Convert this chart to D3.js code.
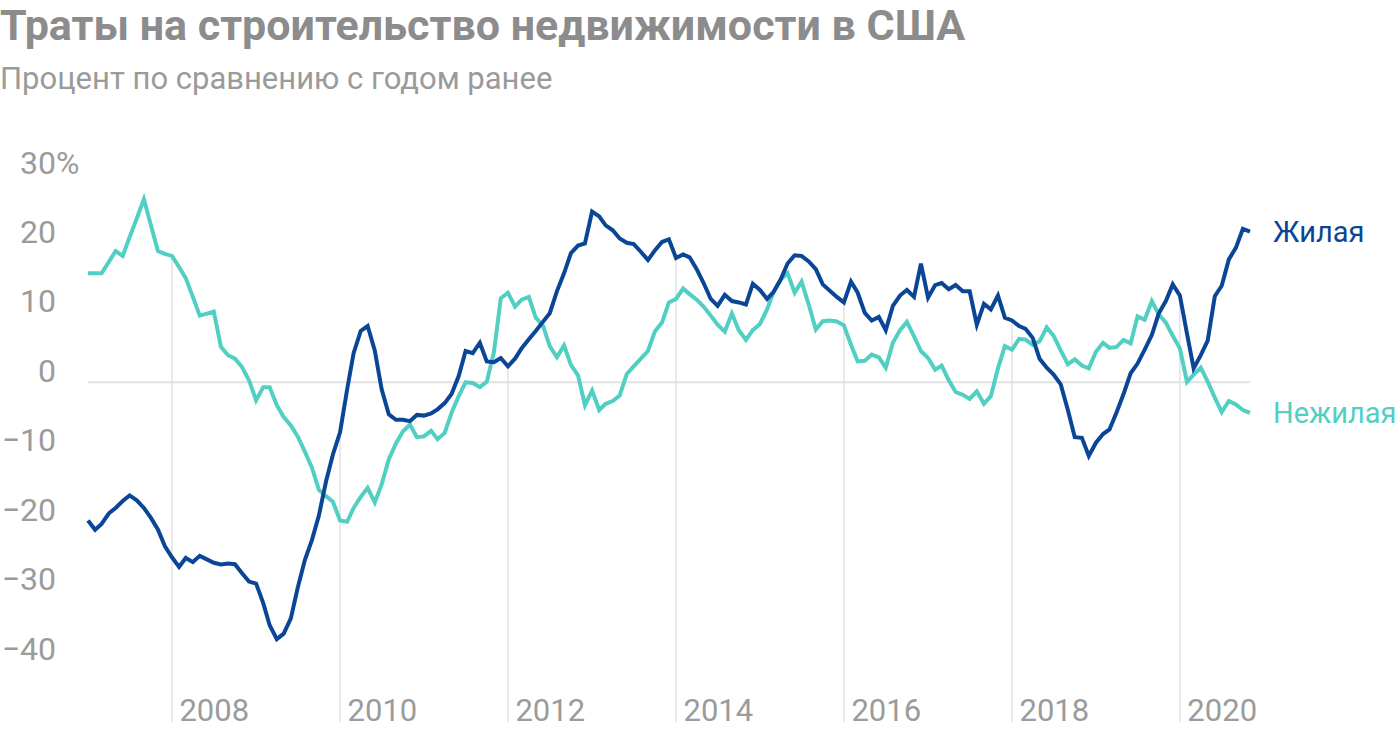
<!DOCTYPE html>
<html>
<head>
<meta charset="utf-8">
<script src="https://cdn.jsdelivr.net/npm/d3@7"></script>
<style>
  html, body { margin: 0; padding: 0; background: #fff; }
  svg { display: block; font-family: Roboto, "Noto Sans", sans-serif; }
</style>
</head>
<body>
<svg id="chart" width="1400" height="732"></svg>
<script>
// ---- Data (year-over-year % change, monthly, Jan 2007 – Nov 2020) ----
const titleText = "Траты на строительство недвижимости в США";
const subtitleText = "Процент по сравнению с годом ранее";
const seriesNames = ["Жилая", "Нежилая"];
const startMonth = "2007-01";

const residential = [
  -19.9, -21.25, -20.4, -18.9, -18.1, -17.1, -16.3, -17.0, -18.1, -19.5, -21.2, -23.6,
  -25.2, -26.6, -25.3, -25.9, -25.0, -25.5, -26.0, -26.25, -26.1, -26.2, -27.5, -28.7,
  -29.0, -31.8, -35.0, -37.0, -36.2, -34.0, -29.6, -25.6, -22.7, -19.2, -14.3, -10.4,
  -7.2, -1.0, 4.2, 7.4, 8.1, 4.6, -1.0, -4.6, -5.4, -5.4, -5.6, -4.7,
  -4.8, -4.5, -3.9, -3.0, -1.7, 0.9, 4.5, 4.2, 5.7, 3.0, 2.9, 3.5,
  2.3, 3.4, 4.9, 6.2, 7.4, 8.7, 9.95, 13.1, 15.7, 18.6, 19.7, 20.0,
  24.6, 23.9, 22.6, 21.9, 20.7, 20.1, 19.9, 18.8, 17.6, 19.0, 20.2, 20.6,
  17.9, 18.4, 18.0, 16.3, 14.3, 12.0, 11.0, 12.6, 11.7, 11.5, 11.2, 14.2,
  13.3, 12.0, 13.0, 14.8, 17.1, 18.3, 18.2, 17.4, 16.3, 14.1, 13.2, 12.3,
  11.5, 14.5, 12.9, 10.0, 8.9, 9.4, 7.5, 11.0, 12.5, 13.3, 12.3, 17.1,
  12.2, 14.0, 14.3, 13.4, 14.0, 13.1, 13.1, 8.3, 11.3, 10.5, 12.5, 9.3,
  8.9, 8.1, 7.7, 6.4, 3.4, 2.1, 1.1, -0.3, -4.0, -7.9, -8.0, -10.6,
  -8.7, -7.45, -6.8, -4.3, -1.7, 1.3, 2.7, 4.7, 6.8, 9.9, 11.7, 14.1,
  12.5, 7.0, 2.0, 3.9, 6.0, 12.4, 13.9, 17.7, 19.4, 22.1, 21.7
];

const nonResidential = [
  15.7, 15.7, 15.7, 17.3, 18.9, 18.2, 20.9, 23.6, 26.4, 22.7, 18.9, 18.5,
  18.2, 16.6, 15.0, 12.3, 9.6, 9.9, 10.2, 5.1, 3.9, 3.4, 2.2, 0.3,
  -2.6, -0.7, -0.7, -3.3, -5.0, -6.2, -7.8, -10.0, -12.3, -15.5, -16.4, -17.2,
  -19.9, -20.1, -18.1, -16.5, -15.2, -17.3, -14.7, -11.1, -8.8, -7.1, -6.1, -7.9,
  -7.8, -7.0, -8.2, -7.3, -4.4, -2.0, 0.0, -0.1, -0.7, 0.05, 4.3, 12.1,
  12.9, 10.9, 11.9, 12.3, 9.3, 8.2, 5.2, 3.6, 5.3, 2.5, 1.0, -3.3,
  -1.2, -4.0, -3.1, -2.7, -1.9, 1.2, 2.3, 3.4, 4.5, 7.3, 8.6, 11.5,
  12.0, 13.5, 12.7, 11.9, 10.9, 9.6, 8.3, 7.3, 9.9, 7.5, 6.1, 7.5,
  8.4, 10.5, 13.0, 14.8, 15.7, 12.9, 14.5, 11.2, 7.6, 8.8, 8.9, 8.75,
  8.2, 5.4, 3.0, 3.1, 4.0, 3.6, 2.1, 5.7, 7.5, 8.7, 6.6, 4.5,
  3.5, 1.8, 2.4, 0.3, -1.4, -1.8, -2.4, -1.3, -3.1, -2.0, 2.0, 5.2,
  4.7, 6.25, 6.15, 5.4, 5.9, 7.9, 6.7, 4.6, 2.6, 3.3, 2.4, 2.0,
  4.4, 5.7, 4.95, 5.1, 6.1, 5.6, 9.5, 9.0, 11.7, 9.8, 8.6, 6.7,
  4.9, 0.05, 1.1, 2.1, 0.1, -2.2, -4.3, -2.7, -3.2, -4.0, -4.4
];

const yTicks = [30, 20, 10, 0, -10, -20, -30, -40];
const xTickYears = [2008, 2010, 2012, 2014, 2016, 2018, 2020];
// which series each year gridline rises up to
const gridTopSeries = ["non", "res", "res", "res", "res", "res", "res"];

// ---- Build dated rows ----
const parseMonth = d3.timeParse("%Y-%m");
const t0 = parseMonth(startMonth);
const dates = residential.map((_, i) => d3.timeMonth.offset(t0, i));
const resRows = dates.map((d, i) => ({ date: d, value: residential[i] }));
const nonRows = dates.map((d, i) => ({ date: d, value: nonResidential[i] }));

// ---- Layout ----
const COLORS = { res: "#0b4596", non: "#52cfc3", grid: "#e2e2e2", axis: "#9b9b9b", title: "#8c8c8c", sub: "#9a9a9a" };
const svg = d3.select("#chart");

const x = d3.scaleTime().domain([dates[0], dates[dates.length - 1]]).range([88, 1250]);
const y = d3.scaleLinear().domain([-40, 30]).range([660, 174]);
const gridBottom = 722;

// Title / subtitle
svg.append("text").attr("x", 0).attr("y", 40)
  .attr("font-size", 43).attr("font-weight", 700).attr("fill", COLORS.title)
  .text(titleText);
svg.append("text").attr("x", 0).attr("y", 89)
  .attr("font-size", 31).attr("fill", COLORS.sub)
  .text(subtitleText);

// Vertical year gridlines: drawn from bottom up to a data line at that date
const byDate = new Map(dates.map((d, i) => [+d, i]));
const gridG = svg.append("g");
xTickYears.forEach((yr, k) => {
  const d = new Date(yr, 0, 1);
  const i = byDate.get(+d);
  const topVal = gridTopSeries[k] === "res" ? residential[i] : nonResidential[i];
  gridG.append("line")
    .attr("x1", x(d)).attr("x2", x(d))
    .attr("y1", gridBottom).attr("y2", y(topVal))
    .attr("stroke", COLORS.grid).attr("stroke-width", 1.5);
});

// Zero line
svg.append("line")
  .attr("x1", x(dates[0])).attr("x2", x(dates[dates.length - 1]))
  .attr("y1", y(0)).attr("y2", y(0))
  .attr("stroke", COLORS.grid).attr("stroke-width", 2);

// Y axis labels (no line), numbers right aligned, "%" hanging after the top one
const yAxis = d3.axisLeft(y).tickValues(yTicks).tickSize(0)
  .tickFormat(v => (v < 0 ? "\u2212" + Math.abs(v) : String(v)));
const yG = svg.append("g").attr("transform", "translate(56,0)").call(yAxis);
yG.select(".domain").remove();
yG.selectAll("text").attr("x", 0).attr("dy", "-0.03em").attr("dominant-baseline", "alphabetic")
  .attr("font-size", 32).attr("font-family", "Roboto, sans-serif").attr("fill", COLORS.axis);
yG.selectAll(".tick").filter(v => v === yTicks[0]).append("text")
  .attr("x", 0).attr("dy", "-0.03em").attr("text-anchor", "start")
  .attr("font-size", 32).attr("font-family", "Roboto, sans-serif").attr("fill", COLORS.axis)
  .text("%");

// X axis labels to the right of the gridlines
const xAxis = d3.axisBottom(x).tickValues(xTickYears.map(yr => new Date(yr, 0, 1)))
  .tickSize(0).tickFormat(d3.timeFormat("%Y"));
const xG = svg.append("g").call(xAxis);
xG.select(".domain").remove();
xG.selectAll("text").attr("y", 721).attr("dy", 0).attr("dx", 7)
  .attr("text-anchor", "start")
  .attr("font-size", 31).attr("font-family", "Roboto, sans-serif").attr("fill", COLORS.axis);

// Lines
const line = d3.line().x(d => x(d.date)).y(d => y(d.value));
svg.append("path").datum(nonRows).attr("d", line)
  .attr("fill", "none").attr("stroke", COLORS.non).attr("stroke-width", 4)
  .attr("stroke-linejoin", "miter").attr("stroke-miterlimit", 4);
svg.append("path").datum(resRows).attr("d", line)
  .attr("fill", "none").attr("stroke", COLORS.res).attr("stroke-width", 4)
  .attr("stroke-linejoin", "miter").attr("stroke-miterlimit", 4);

// End labels
const lastRes = resRows[resRows.length - 1];
const lastNon = nonRows[nonRows.length - 1];
svg.append("text").attr("x", 1273).attr("y", y(lastRes.value))
  .attr("dominant-baseline", "central").attr("font-size", 29).attr("fill", COLORS.res)
  .text(seriesNames[0]);
svg.append("text").attr("x", 1273).attr("y", y(lastNon.value))
  .attr("dominant-baseline", "central").attr("font-size", 29).attr("fill", COLORS.non)
  .text(seriesNames[1]);
</script>
</body>
</html>
